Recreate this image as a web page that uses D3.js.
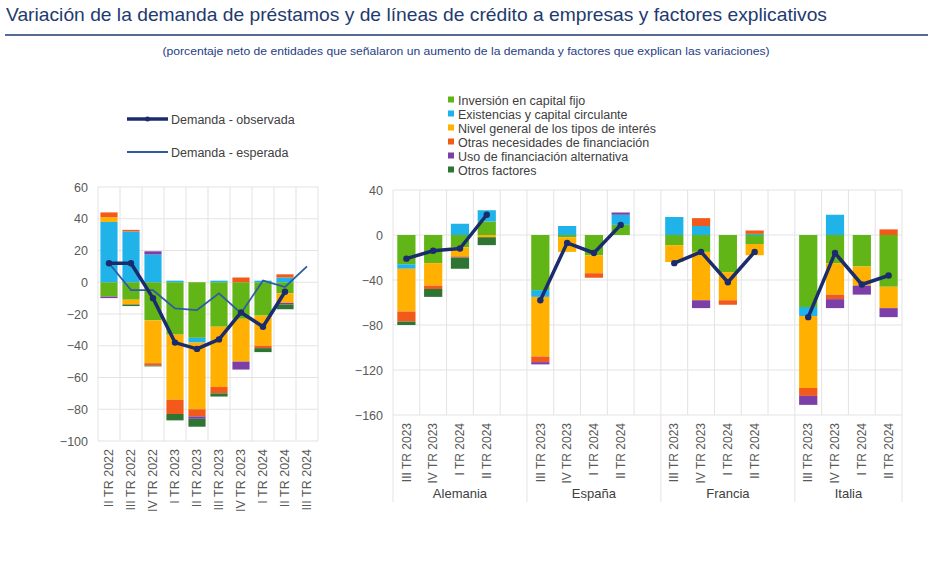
<!DOCTYPE html>
<html><head><meta charset="utf-8">
<script src="https://cdn.jsdelivr.net/npm/d3@7"></script>
<style>
body{margin:0;background:#fff;}
svg text{font-family:"Liberation Sans",Arial,sans-serif;}
</style>
</head><body>
<svg id="c" width="940" height="568"></svg>
<script>
// ---------- DATA ----------
const seriesNames = ["Inversión en capital fijo","Existencias y capital circulante","Nivel general de los tipos de interés","Otras necesidades de financiación","Uso de financiación alternativa","Otros factores"];
const seriesColors = ["#62b516","#1fb3ea","#ffb000","#f25a1c","#7c3fa8","#2e7433"];
const lineNames = ["Demanda - observada","Demanda - esperada"];

// Left chart (euro area)
const leftCategories = ["II TR 2022","III TR 2022","IV TR 2022","I TR 2023","II TR 2023","III TR 2023","IV TR 2023","I TR 2024","II TR 2024","III TR 2024"];
const leftInversion   = [-9, -11, -24, -33, -35, -28, -23, -21, -7, null];
const leftExistencias = [38, 32, 17.5, 1, -3, 1, 0, 1, 3, null];
const leftTipos       = [3, -3, -27, -41, -42, -38, -27, -19, -6, null];
const leftOtrasNec    = [3, 1, -1.5, -9, -4.5, -4, 3, -1.5, 2, null];
const leftUsoFin      = [-1, 0, 2, 0, -1.5, 0, -5, 0, -1, null];
const leftOtros       = [0, -1, -0.5, -4, -5, -2, 0, -2.5, -3, null];
const leftObservada   = [12, 12, -10, -38, -42, -36, -19, -28, -6, null];
const leftEsperada    = [12, -5, -5, -16.5, -17.5, -7, -19.5, 1, -3, 10];
const leftTicks = [60, 40, 20, 0, -20, -40, -60, -80, -100];

// Right chart (countries)
const countries = ["Alemania","España","Francia","Italia"];
const quarters  = ["III TR 2023","IV TR 2023","I TR 2024","II TR 2024"];
const rightInversion   = [[-26, -25, -11, 12], [-49, -2, -18, 9], [-9, -15, -33, -8], [-64, -25, -28, -46]];
const rightExistencias = [[-4, 0, 10, 10], [-6, 8, 0, 9], [16, 8, 0, 1], [-8, 18, 0, 0]];
const rightTipos       = [[-38, -20, -8, -2], [-53, -13, -16, 0], [-15, -43, -25, -10], [-64, -28, -17, -19]];
const rightOtrasNec    = [[-9, -3, -1, 0], [-5, 0, -4, 0], [0, 7, -4, 3], [-7, -4, 0, 5]];
const rightUsoFin      = [[0, 0, 0, 0], [-2, 0, 0, 2], [0, -7, 0, 0], [-8, -8, -8, -8]];
const rightOtros       = [[-3, -7, -10, -7], [0, 0, 0, 0], [0, 0, 0, 0], [0, 0, 0, 0]];
const rightObservada   = [[-21, -14, -12, 18], [-58, -7, -16, 9], [-25, -15, -42, -15], [-73, -16, -44, -36]];
const rightTicks = [40, 0, -40, -80, -120, -160];

// ---------- DRAW ----------
const svg = d3.select("#c");
const navy = "#1e3a70";
const obsColor = "#1b2c6e";
const expColor = "#2f5ca3";
const gridColor = "#e3e3e3";
const tickColor = "#595959";
const keys = ["s0","s1","s2","s3","s4","s5"];

// Title
svg.append("text").attr("x", 6).attr("y", 21).attr("font-size", 18.5).attr("fill", navy)
  .attr("textLength", 821).attr("lengthAdjust", "spacingAndGlyphs")
  .text("Variación de la demanda de préstamos y de líneas de crédito a empresas y factores explicativos");
svg.append("line").attr("x1", 5).attr("x2", 928).attr("y1", 35).attr("y2", 35)
  .attr("stroke", navy).attr("stroke-width", 1.5);
svg.append("text").attr("x", 466).attr("y", 55).attr("text-anchor", "middle").attr("font-size", 10.5)
  .attr("fill", "#1f3d86").attr("textLength", 607).attr("lengthAdjust", "spacingAndGlyphs")
  .text("(porcentaje neto de entidades que señalaron un aumento de la demanda y factores que explican las variaciones)");

// Legends
const lg = svg.append("g");
lg.append("line").attr("x1", 127).attr("x2", 168).attr("y1", 119).attr("y2", 119).attr("stroke", obsColor).attr("stroke-width", 3.5);
lg.append("circle").attr("cx", 147.5).attr("cy", 119).attr("r", 2.5).attr("fill", obsColor);
lg.append("line").attr("x1", 127).attr("x2", 168).attr("y1", 152).attr("y2", 152).attr("stroke", expColor).attr("stroke-width", 1.8);
lineNames.forEach((n, i) => {
  lg.append("text").attr("x", 171).attr("y", 123.5 + i * 33).attr("font-size", 12.5).attr("fill", "#404040").text(n);
});
seriesNames.forEach((n, i) => {
  const y = 100 + i * 14;
  lg.append("rect").attr("x", 448).attr("y", y - 3.5).attr("width", 6).attr("height", 6).attr("fill", seriesColors[i]);
  lg.append("text").attr("x", 458).attr("y", y + 4.5).attr("font-size", 12.5).attr("fill", "#404040").text(n);
});

function drawStack(g, rows, x, y, barFrac) {
  const stacked = d3.stack().keys(keys).offset(d3.stackOffsetDiverging)(rows);
  const bw = x.bandwidth() * barFrac;
  stacked.forEach((layer, i) => {
    g.append("g").selectAll("rect").data(layer).join("rect")
      .attr("x", d => x(d.data.key) + (x.bandwidth() - bw) / 2)
      .attr("width", bw)
      .attr("y", d => y(Math.max(d[0], d[1])))
      .attr("height", d => Math.abs(y(d[0]) - y(d[1])))
      .attr("fill", seriesColors[i]);
  });
}

// ---------- LEFT CHART ----------
{
  const x = d3.scaleBand().domain(leftCategories).range([98, 318]);
  const y = d3.scaleLinear().domain([-100, 60]).range([441, 187]);
  const g = svg.append("g");
  g.append("g").selectAll("line").data(leftTicks).join("line")
    .attr("x1", 98).attr("x2", 318).attr("y1", d => y(d)).attr("y2", d => y(d))
    .attr("stroke", gridColor);
  const vb = leftCategories.map(c => x(c)).concat([x.range()[1]]);
  g.append("g").selectAll("line").data(vb).join("line")
    .attr("x1", d => d).attr("x2", d => d).attr("y1", y(60)).attr("y2", y(-100))
    .attr("stroke", gridColor);
  const ax = g.append("g").attr("transform", "translate(98,0)")
    .call(d3.axisLeft(y).tickValues(leftTicks).tickSize(0).tickPadding(10));
  ax.select(".domain").remove();
  ax.selectAll("text").attr("font-size", 12.5).attr("fill", tickColor).attr("font-family", "Liberation Sans, Arial, sans-serif");
  const srcs = [leftInversion, leftExistencias, leftTipos, leftOtrasNec, leftUsoFin, leftOtros];
  const rows = leftCategories.map((c, j) => {
    const r = {key: c};
    keys.forEach((k, i) => r[k] = srcs[i][j] == null ? 0 : srcs[i][j]);
    return r;
  });
  drawStack(g, rows, x, y, 0.78);
  const cx = c => x(c) + x.bandwidth() / 2;
  const esp = leftCategories.map((c, j) => ({c, v: leftEsperada[j]})).filter(d => d.v != null);
  g.append("path").datum(esp).attr("fill", "none").attr("stroke", expColor).attr("stroke-width", 1.8)
    .attr("d", d3.line().x(d => cx(d.c)).y(d => y(d.v)));
  const obs = leftCategories.map((c, j) => ({c, v: leftObservada[j]})).filter(d => d.v != null);
  g.append("path").datum(obs).attr("fill", "none").attr("stroke", obsColor).attr("stroke-width", 3.5)
    .attr("stroke-linejoin", "round")
    .attr("d", d3.line().x(d => cx(d.c)).y(d => y(d.v)));
  g.append("g").selectAll("circle").data(obs).join("circle")
    .attr("cx", d => cx(d.c)).attr("cy", d => y(d.v)).attr("r", 3.2).attr("fill", obsColor);
  g.append("g").selectAll("text").data(leftCategories).join("text")
    .attr("transform", c => `translate(${cx(c)},449) rotate(-90)`)
    .attr("text-anchor", "end").attr("dy", "0.35em").attr("font-size", 12.5).attr("fill", tickColor)
    .text(c => c);
}

// ---------- RIGHT CHART ----------
{
  const slots = countries.flatMap((c, i) => {
    const s = quarters.map(q => c + "|" + q);
    return i < countries.length - 1 ? s.concat([c + "|gap"]) : s;
  });
  const x = d3.scaleBand().domain(slots).range([393, 902]);
  const y = d3.scaleLinear().domain([-160, 40]).range([415, 190]);
  const g = svg.append("g");
  g.append("g").selectAll("line").data(rightTicks).join("line")
    .attr("x1", 393).attr("x2", 902).attr("y1", d => y(d)).attr("y2", d => y(d))
    .attr("stroke", gridColor);
  const vb = slots.map(s => x(s)).concat([x.range()[1]]);
  g.append("g").selectAll("line").data(vb).join("line")
    .attr("x1", d => d).attr("x2", d => d).attr("y1", y(40)).attr("y2", y(-160))
    .attr("stroke", gridColor);
  const ax = g.append("g").attr("transform", "translate(393,0)")
    .call(d3.axisLeft(y).tickValues(rightTicks).tickSize(0).tickPadding(10));
  ax.select(".domain").remove();
  ax.selectAll("text").attr("font-size", 12.5).attr("fill", tickColor).attr("font-family", "Liberation Sans, Arial, sans-serif");

  const srcs = [rightInversion, rightExistencias, rightTipos, rightOtrasNec, rightUsoFin, rightOtros];
  const rows = [];
  countries.forEach((c, i) => quarters.forEach((q, j) => {
    const r = {key: c + "|" + q};
    keys.forEach((k, s) => r[k] = srcs[s][i][j]);
    rows.push(r);
  }));
  drawStack(g, rows, x, y, 0.68);

  const cx = k => x(k) + x.bandwidth() / 2;
  countries.forEach((c, i) => {
    const pts = quarters.map((q, j) => ({k: c + "|" + q, v: rightObservada[i][j]}));
    g.append("path").datum(pts).attr("fill", "none").attr("stroke", obsColor).attr("stroke-width", 3.5)
      .attr("stroke-linejoin", "round")
      .attr("d", d3.line().x(d => cx(d.k)).y(d => y(d.v)));
    g.append("g").selectAll("circle").data(pts).join("circle")
      .attr("cx", d => cx(d.k)).attr("cy", d => y(d.v)).attr("r", 3.2).attr("fill", obsColor);
  });
  const labelKeys = slots.filter(s => !s.endsWith("|gap"));
  g.append("g").selectAll("text").data(labelKeys).join("text")
    .attr("transform", k => `translate(${cx(k)},423) rotate(-90)`)
    .attr("text-anchor", "end").attr("dy", "0.35em").attr("font-size", 12).attr("fill", tickColor)
    .text(k => k.split("|")[1]);
  const bounds = countries.map((c, i) => {
    const first = x(c + "|" + quarters[0]);
    const last = i < countries.length - 1 ? x(c + "|gap") + x.bandwidth() : x.range()[1];
    return [first, last];
  });
  const seps = [bounds[0][0]].concat(bounds.map(b => b[1]));
  g.append("g").selectAll("line").data(seps).join("line")
    .attr("x1", d => d).attr("x2", d => d).attr("y1", y(-160)).attr("y2", 502)
    .attr("stroke", gridColor);
  g.append("g").selectAll("text").data(countries).join("text")
    .attr("x", (c, i) => (bounds[i][0] + bounds[i][1]) / 2).attr("y", 498)
    .attr("text-anchor", "middle").attr("font-size", 13).attr("fill", "#404040")
    .text(c => c);
}
</script>
</body></html>
